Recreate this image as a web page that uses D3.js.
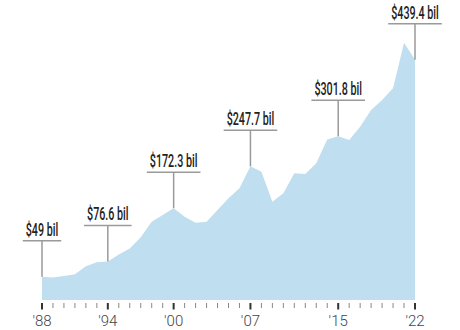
<!DOCTYPE html>
<html lang="en">
<meta charset="utf-8">
<head>
    <title>Annual totals, 1988-2022</title>
    <script src="https://d3js.org/d3.v7.min.js"></script>
    <style type="text/css">
        body {
            margin: 0;
            background: #fff;
        }
        .callout text {
            font-family: Roboto, "Liberation Sans", sans-serif;
            font-weight: 500;
            font-size: 18.5px;
            fill: #222;
        }
        .tick-label {
            font-family: Roboto, "Liberation Sans", sans-serif;
            font-weight: 300;
            font-size: 15px;
            fill: #444;
        }
    </style>
</head>
<body>
<div id="chart"></div>

<script>
// values, billions of dollars
var years = [1988, 1989, 1990, 1991, 1992, 1993, 1994, 1995, 1996, 1997,
             1998, 1999, 2000, 2001, 2002, 2003, 2004, 2005, 2006, 2007,
             2008, 2009, 2010, 2011, 2012, 2013, 2014, 2015, 2016, 2017,
             2018, 2019, 2020, 2021, 2022];
var totals = [49, 47.5, 50.5, 53.5, 68, 75, 76.6, 89, 100, 120,
              148, 160, 172.3, 157, 146, 148, 169, 190, 208, 247.7,
              238, 184, 199, 235, 234, 253, 296, 301.8, 295, 319,
              349, 367, 388, 470, 439.4];

// labelled years on the axis
var tickYears = [1988, 1994, 2000, 2007, 2015, 2022];
var tickLabels = ["'88", "'94", "'00", "'07", "'15", "'22"];

// callouts
var calloutYears = [1988, 1994, 2000, 2007, 2015, 2022];
var calloutTexts = ["$49 bil", "$76.6 bil", "$172.3 bil", "$247.7 bil", "$301.8 bil", "$439.4 bil"];

var w = 460;
var h = 330;
var plotBottom = 300;
var stem = 36;
var squeeze = 0.58;

var data = years.map(function(y, i) { return {year: y, value: totals[i]}; });

var svg = d3.select("#chart")
    .append("svg")
    .attr("width", w)
    .attr("height", h);

var xScale = d3.scaleLinear()
    .domain([1988, 2022])
    .range([42, 415]);

var yScale = d3.scaleLinear()
    .domain([0, 470])
    .range([304, 42.7]);

var area = d3.area()
    .x(function(d) { return xScale(d.year); })
    .y0(plotBottom)
    .y1(function(d) { return yScale(d.value); });

svg.append("path")
    .datum(data)
    .attr("d", area)
    .attr("fill", "#bfdef0");

// axis: minor tick every year, heavier tick on labelled years
var allYears = d3.range(1988, 2023);
svg.append("g")
    .selectAll("line")
    .data(allYears)
    .enter()
    .append("line")
    .attr("x1", function(d) { return xScale(d); })
    .attr("x2", function(d) { return xScale(d); })
    .attr("y1", 303)
    .attr("y2", function(d) { return tickYears.indexOf(d) >= 0 ? 309.5 : 308; })
    .attr("stroke", function(d) { return tickYears.indexOf(d) >= 0 ? "#333" : "#888"; })
    .attr("stroke-width", function(d) { return tickYears.indexOf(d) >= 0 ? 2 : 1; });

svg.append("g")
    .selectAll("text")
    .data(tickYears)
    .enter()
    .append("text")
    .attr("class", "tick-label")
    .attr("x", function(d) { return xScale(d); })
    .attr("y", 326)
    .attr("text-anchor", "middle")
    .text(function(d, i) { return tickLabels[i]; });

// callouts
var callouts = svg.append("g")
    .attr("class", "callout")
    .selectAll("g")
    .data(calloutYears)
    .enter()
    .append("g");

callouts.each(function(yr, i) {
    var g = d3.select(this);
    var cx = xScale(yr);
    var cy = yScale(totals[years.indexOf(yr)]);
    var lineY = cy - stem;

    g.append("line")
        .attr("x1", cx).attr("x2", cx)
        .attr("y1", lineY).attr("y2", cy)
        .attr("stroke", "#9a9a9a")
        .attr("stroke-width", 1.5);

    var t = g.append("text")
        .attr("text-anchor", "middle")
        .attr("transform", "translate(" + cx + "," + (lineY - 5) + ") scale(" + squeeze + ",1)")
        .text(calloutTexts[i]);

    var tw = t.node().getComputedTextLength() * squeeze;

    g.append("line")
        .attr("x1", cx - tw / 2 - 3).attr("x2", cx + tw / 2 + 3)
        .attr("y1", lineY).attr("y2", lineY)
        .attr("stroke", "#9a9a9a")
        .attr("stroke-width", 1.5);
});
</script>
</body>
</html>
